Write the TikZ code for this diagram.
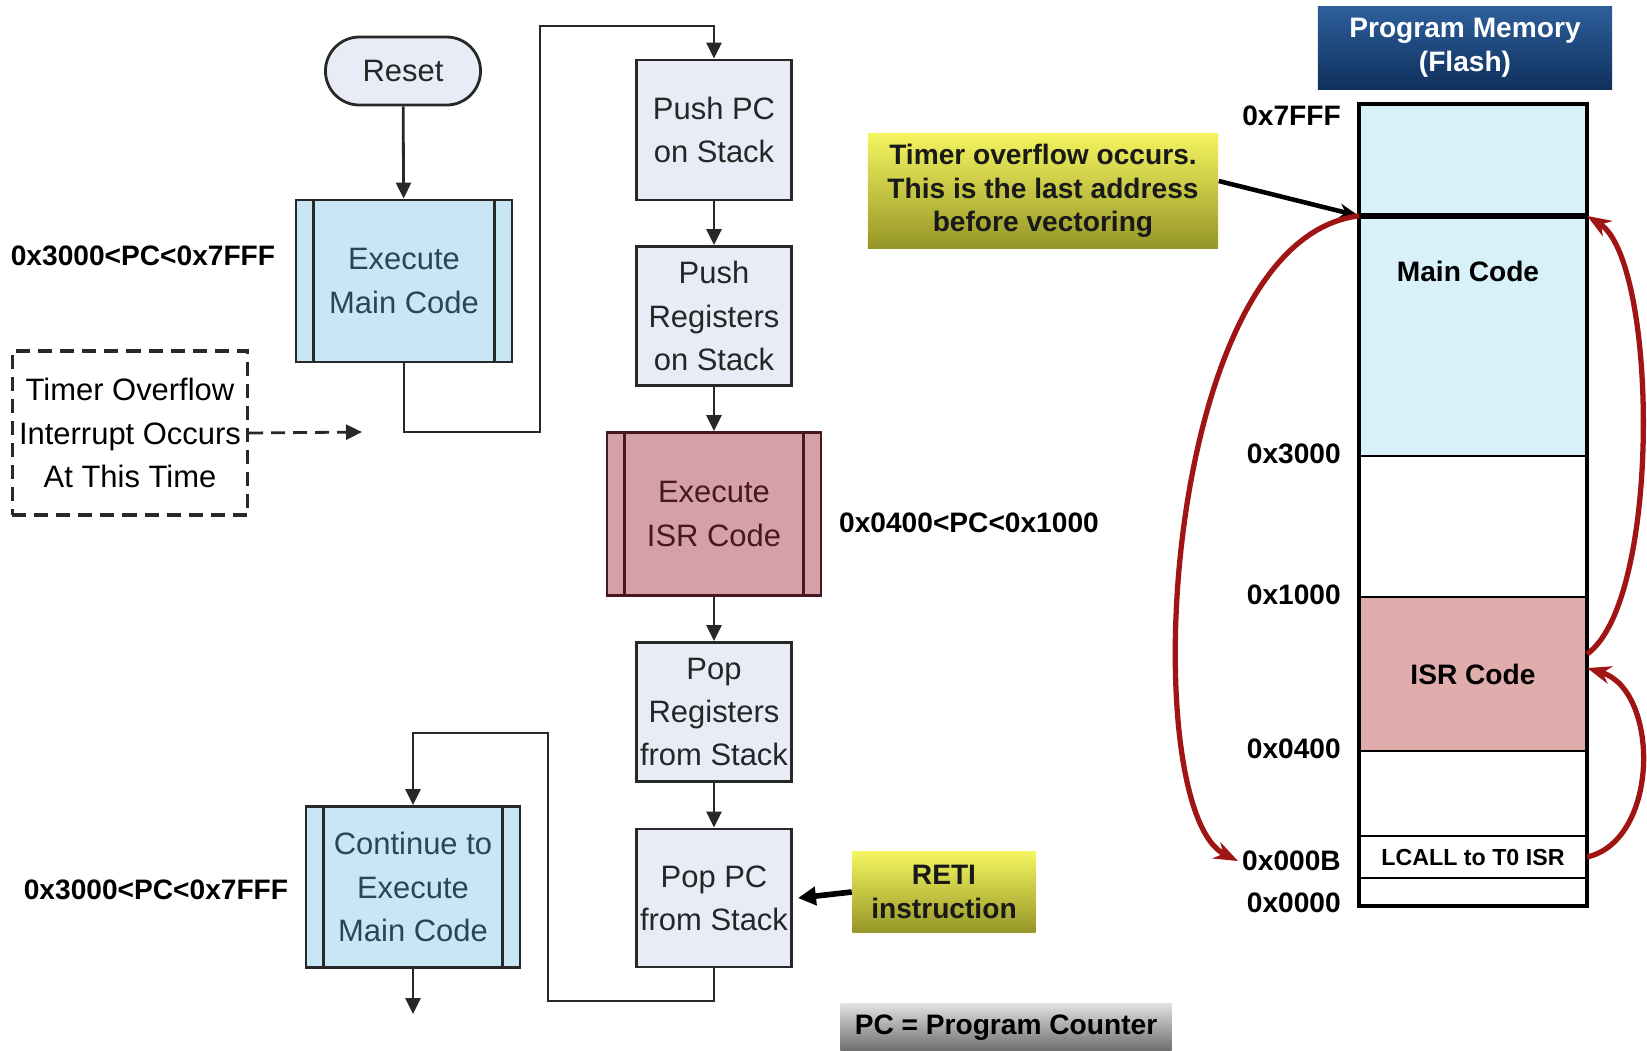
\documentclass[tikz,border=0pt]{standalone}
\usepackage{fontspec}
\setmainfont{Liberation Sans}
\usetikzlibrary{arrows.meta}
\definecolor{boxline}{RGB}{40,40,40}
\definecolor{pushfill}{RGB}{232,236,247}
\definecolor{mainfill}{RGB}{200,230,244}
\definecolor{maintxt}{RGB}{40,70,85}
\definecolor{isrfill}{RGB}{214,160,168}
\definecolor{isrline}{RGB}{70,25,30}
\definecolor{memblue}{RGB}{216,240,248}
\definecolor{mempink}{RGB}{224,172,172}
\definecolor{arcred}{RGB}{160,20,20}
\definecolor{ylwtop}{RGB}{244,244,95}
\definecolor{ylwmid}{RGB}{226,226,70}
\definecolor{ylwbot}{RGB}{150,150,40}
\definecolor{hdrtop}{RGB}{45,95,155}
\definecolor{hdrbot}{RGB}{15,48,92}
\definecolor{graytop}{RGB}{225,225,225}
\definecolor{graybot}{RGB}{105,105,105}
\newcommand{\flowfont}{\fontsize{8.8}{12.3}\selectfont}
\newcommand{\lblfont}{\bfseries\fontsize{8}{9.6}\selectfont}

\begin{document}
\begin{tikzpicture}[x=0.01cm,y=-0.01cm,
    flowbox/.style={draw=boxline,line width=0.8pt,fill=pushfill,text=black!85,font=\flowfont,align=center,inner sep=0pt,minimum width=1.55cm,minimum height=1.39cm},
    term/.style={flowbox,rounded corners=0.34cm,minimum height=0.68cm},
    procbox/.style={flowbox,fill=mainfill,text=maintxt,minimum width=2.15cm,minimum height=1.62cm},
    flow/.style={draw=boxline,line width=0.8pt,-{Triangle[length=0.16cm,width=0.15cm]}},
    callout/.style={top color=ylwtop,middle color=ylwmid,bottom color=ylwbot,text=black!90,font=\lblfont,align=center,inner sep=0pt},
    memsec/.style={draw,line width=0.6pt,minimum width=2.26cm,inner sep=0pt},
    addr/.style={font=\lblfont,anchor=east,inner sep=1pt},
    redarc/.style={draw=arcred,line width=1.5pt,-{Stealth[length=0.24cm,width=0.18cm]}}]
\useasboundingbox (0,0) rectangle (1647,1050);

\node (reset) at (403,71) [term,minimum width=1.55cm] {Reset};
\node (mainc) at (404,281) [procbox,minimum width=2.16cm] {Execute\\Main Code};
\node (pushpc) at (714,130) [flowbox,minimum height=1.4cm] {Push PC\\on Stack};
\node (pushreg) at (714,316) [flowbox] {Push\\Registers\\on Stack};
\node (isr) at (714,514) [procbox,fill=isrfill,draw=isrline,text=isrline,minimum width=2.14cm,minimum height=1.63cm] {Execute\\ISR Code};
\node (popreg) at (714,712) [flowbox] {Pop\\Registers\\from Stack};
\node (poppc) at (714,898) [flowbox,minimum height=1.38cm] {Pop PC\\from Stack};
\node (cont) at (413,887) [procbox,minimum width=2.14cm,minimum height=1.61cm] {Continue to\\Execute\\Main Code};
\coordinate (contend) at (413,1014);

\foreach \n/\c in {mainc/boxline,isr/isrline,cont/boxline}
  \draw[\c,line width=0.8pt] ([xshift=0.19cm]\n.north west) -- ([xshift=0.19cm]\n.south west)
    ([xshift=-0.19cm]\n.north east) -- ([xshift=-0.19cm]\n.south east);

\node (irqbox) at (130,433) [draw=boxline,line width=0.9pt,dash pattern=on 0.14cm off 0.08cm,font=\flowfont,align=center,minimum width=2.35cm,minimum height=1.64cm,inner sep=0pt] {Timer Overflow\\Interrupt Occurs\\At This Time};
\coordinate (irqpt) at (362,432);

\node (rng1) at (143,256) [font=\lblfont] {0x3000<PC<0x7FFF};
\node (rng2) at (969,523) [font=\lblfont] {0x0400<PC<0x1000};
\node (rng3) at (156,890) [font=\lblfont] {0x3000<PC<0x7FFF};

\draw[flow] (reset) -- (mainc);
\draw[flow] (mainc.south) |- (540,432) -- (540,26) -| (pushpc.north);
\draw[flow] (pushpc) -- (pushreg);
\draw[flow] (pushreg) -- (isr);
\draw[flow] (isr) -- (popreg);
\draw[flow] (popreg) -- (poppc);
\draw[flow] (poppc.south) |- (548,1001) -- (548,733) -| (cont.north);
\draw[flow] (cont) -- (contend);
\draw[flow,dash pattern=on 0.14cm off 0.08cm] (irqbox.east) -- (irqpt);

\node (hdr) at (1465,48) [top color=hdrtop,bottom color=hdrbot,text=white,font=\lblfont,align=center,minimum width=2.94cm,minimum height=0.81cm] {Program Memory\\(Flash)};

\node (memtop) at (1473,161) [memsec,fill=memblue,minimum height=1.12cm] {};
\node (memmain) at (1473,336.5) [memsec,fill=memblue,minimum height=2.39cm] {};
\node (memfree) at (1473,526.5) [memsec,fill=white,minimum height=1.41cm] {};
\node (memisr) at (1473,674) [memsec,fill=mempink,minimum height=1.54cm,font=\lblfont] {ISR Code};
\node (memlow) at (1473,793.5) [memsec,fill=white,minimum height=0.85cm] {};
\node (memvec) at (1473,857) [memsec,fill=white,minimum height=0.42cm,font=\bfseries\fontsize{6.6}{8}\selectfont] {LCALL to T0 ISR};
\node (membot) at (1473,891.5) [memsec,fill=white,minimum height=0.27cm] {};
\node (maintext) at (1468,271) [font=\lblfont] {Main Code};
\draw[line width=1pt] (memtop.north west) rectangle (membot.south east);
\draw[line width=1.6pt] (memmain.north west) -- (memmain.north east);

\node (a7fff) at (1345,116) [addr] {0x7FFF};
\node (a3000) at (1345,454) [addr] {0x3000};
\node (a1000) at (1345,595) [addr] {0x1000};
\node (a0400) at (1345,749) [addr] {0x0400};
\node (a000b) at (1345,861) [addr] {0x000B};
\node (a0000) at (1345,903) [addr] {0x0000};

\node (ovfl) at (1043,191) [callout,minimum width=3.5cm,minimum height=1.14cm] {Timer overflow occurs.\\This is the last address\\before vectoring};
\node (reti) at (944,892) [callout,minimum width=1.83cm,minimum height=0.8cm] {RETI\\instruction};
\node (pcnote) at (1006,1028) [top color=graytop,bottom color=graybot,font=\lblfont,minimum width=3.31cm,minimum height=0.44cm] {PC = Program Counter};

\draw[line width=1.3pt,-{Stealth[length=0.2cm,width=0.15cm]}] ([yshift=0.1cm]ovfl.east) -- (memmain.north west);
\draw[line width=1.6pt,-{Triangle[length=0.18cm,width=0.18cm]}] (reti.west) -- ([xshift=0.05cm]poppc.east);

\draw[redarc] (memmain.north west) .. controls (1160,240) and (1135,810) .. (a000b.west);
\draw[redarc] (memvec.east) .. controls (1660,840) and (1660,690) .. ([yshift=0.06cm]memisr.east);
\draw[redarc] ([yshift=0.2cm]memisr.east) .. controls (1662,600) and (1658,260) .. (memmain.north east);

\end{tikzpicture}
\end{document}
